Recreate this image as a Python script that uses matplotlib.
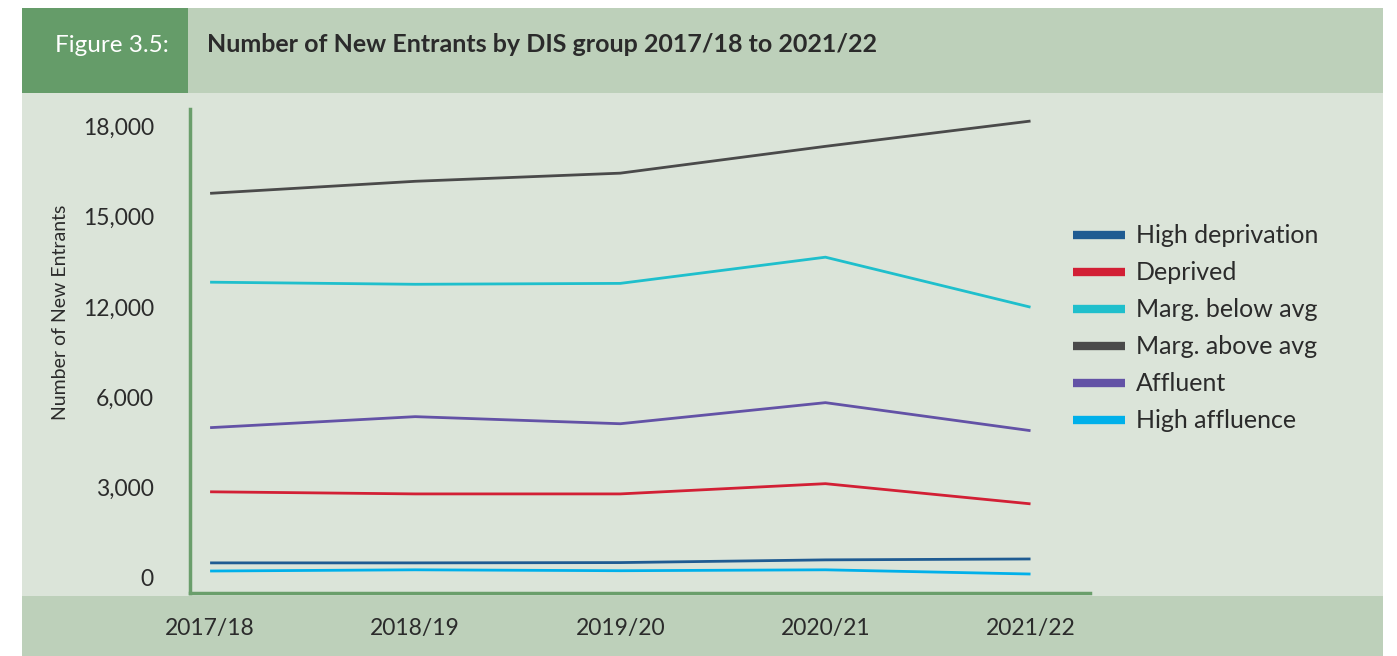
import numpy as np
import matplotlib.pyplot as plt
from matplotlib.patches import Rectangle

plt.rcParams['font.family'] = ['Lato', 'DejaVu Sans']

years = ['2017/18', '2018/19', '2019/20', '2020/21', '2021/22']
high_deprivation = [500, 500, 510, 600, 630]
deprived = [2860, 2790, 2790, 3130, 2460]
marg_below = [12820, 12750, 12780, 13650, 11980]
marg_above = [15770, 16170, 16440, 17330, 18170]
affluent = [4990, 5355, 5120, 5820, 4890]
high_affluence = [230, 270, 240, 270, 130]

series = [
    ('High deprivation', high_deprivation, '#1f5b92'),
    ('Deprived', deprived, '#d21f35'),
    ('Marg. below avg', marg_below, '#1fbfcc'),
    ('Marg. above avg', marg_above, '#4a4a4a'),
    ('Affluent', affluent, '#6352a6'),
    ('High affluence', high_affluence, '#00b0ea'),
]

# the y axis in the original is not linear: ticks are evenly spaced
yticks = [0, 3000, 6000, 12000, 15000, 18000]
tick_vals = np.array([-3000] + yticks + [21000], dtype=float)
tick_pos = np.arange(-1, len(yticks) + 1, dtype=float)

def fwd(v):
    return np.interp(v, tick_vals, tick_pos)

def inv(p):
    return np.interp(p, tick_pos, tick_vals)

W, H = 1397, 656
fig = plt.figure(figsize=(W / 100, H / 100), dpi=100)

def box(x0, y0, x1, y1, color):
    fig.add_artist(Rectangle((x0 / W, 1 - y1 / H), (x1 - x0) / W, (y1 - y0) / H,
                             transform=fig.transFigure, facecolor=color,
                             edgecolor='none', zorder=-10))

box(22, 8, 1383, 656, '#dbe4d9')
box(22, 8, 1383, 93, '#bdd0ba')
box(22, 8, 188, 93, '#659c69')
box(22, 596, 1383, 656, '#bdd0ba')

fig.text(112 / W, 1 - 45 / H, 'Figure 3.5:', color='white', fontsize=17.5,
         ha='center', va='center')
fig.text(207 / W, 1 - 45 / H, 'Number of New Entrants by DIS group 2017/18 to 2021/22',
         color='#2b2b2b', fontsize=18, fontweight='bold', ha='left', va='center')

ax = fig.add_axes([190 / W, 1 - 593 / H, 900 / W, 484 / H])
ax.set_facecolor('none')
ax.set_yscale('function', functions=(fwd, inv))

x = np.arange(len(years))
for name, vals, col in series:
    ax.plot(x, vals, color=col, lw=2.0, label=name, solid_capstyle='butt')

ax.set_xlim(-0.098, 4.29)
ax.set_ylim(-500, 18570)
ax.set_yticks(yticks)
ax.set_yticklabels([f'{v:,}' for v in yticks])
ax.yaxis.set_minor_locator(plt.NullLocator())
ax.set_xticks(x)
ax.set_xticklabels(years)
ax.tick_params(axis='both', length=0, labelsize=16.5, colors='#2b2b2b')
ax.tick_params(axis='y', pad=26)
ax.tick_params(axis='x', pad=18)

for s in ['top', 'right']:
    ax.spines[s].set_visible(False)
for s in ['left', 'bottom']:
    ax.spines[s].set_color('#6a9e6b')
    ax.spines[s].set_linewidth(2.5)

ax.set_ylabel('Number of New Entrants', fontsize=14, color='#2b2b2b')
ax.yaxis.set_label_coords((69 - 190) / 900, (593 - 312) / 484)

leg = ax.legend(loc='upper left', bbox_to_anchor=(1050 / W, 1 - 202 / H),
                bbox_transform=fig.transFigure, frameon=False, fontsize=18,
                handlelength=2.1, handletextpad=0.45, labelspacing=0.56)
for line in leg.get_lines():
    line.set_linewidth(6)
for t in leg.get_texts():
    t.set_color('#2b2b2b')

fig.savefig('out.png', dpi=100)
